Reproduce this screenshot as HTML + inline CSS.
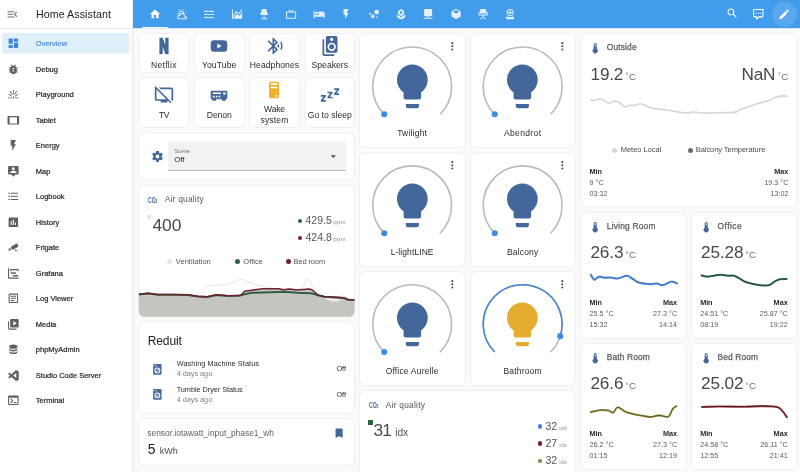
<!DOCTYPE html>
<html><head><meta charset="utf-8"><title>Home Assistant</title>
<style>
html,body{margin:0;padding:0}
body{width:800px;height:472px;overflow:hidden;position:relative;background:#fafafa;font-family:"Liberation Sans",sans-serif;}
.t{position:absolute;white-space:nowrap}
#L{position:absolute;left:0;top:0;width:800px;height:472px;will-change:transform}
#W{position:absolute;left:0;top:0;width:800px;height:472px;filter:blur(0.35px)}
.i{position:absolute;overflow:visible}
</style></head><body>
<div id="W">
<svg class="i" style="left:0;top:0;width:800px;height:472px" viewBox="0 0 800 472"><rect x="139.00" y="33.55" width="49.80" height="39.00" rx="5.8" fill="#fff" stroke="#efefef" stroke-width="1"/><rect x="194.30" y="33.55" width="49.80" height="39.00" rx="5.8" fill="#fff" stroke="#efefef" stroke-width="1"/><rect x="249.60" y="33.55" width="49.80" height="39.00" rx="5.8" fill="#fff" stroke="#efefef" stroke-width="1"/><rect x="304.90" y="33.55" width="49.80" height="39.00" rx="5.8" fill="#fff" stroke="#efefef" stroke-width="1"/><rect x="139.00" y="78.15" width="49.80" height="49.30" rx="5.8" fill="#fff" stroke="#efefef" stroke-width="1"/><rect x="194.30" y="78.15" width="49.80" height="49.30" rx="5.8" fill="#fff" stroke="#efefef" stroke-width="1"/><rect x="249.60" y="78.15" width="49.80" height="49.30" rx="5.8" fill="#fff" stroke="#efefef" stroke-width="1"/><rect x="304.90" y="78.15" width="49.80" height="49.30" rx="5.8" fill="#fff" stroke="#efefef" stroke-width="1"/><rect x="138.65" y="132.95" width="216.00" height="46.30" rx="5.8" fill="#fff" stroke="#efefef" stroke-width="1"/><rect x="138.65" y="185.15" width="216.00" height="131.90" rx="5.8" fill="#fff" stroke="#efefef" stroke-width="1"/><rect x="138.65" y="322.05" width="216.00" height="91.30" rx="5.8" fill="#fff" stroke="#efefef" stroke-width="1"/><rect x="138.65" y="418.45" width="216.00" height="47.40" rx="5.8" fill="#fff" stroke="#efefef" stroke-width="1"/><rect x="359.25" y="33.85" width="106.00" height="113.60" rx="5.8" fill="#fff" stroke="#efefef" stroke-width="1"/><rect x="470.25" y="33.85" width="105.00" height="113.60" rx="5.8" fill="#fff" stroke="#efefef" stroke-width="1"/><rect x="359.25" y="152.75" width="106.00" height="113.60" rx="5.8" fill="#fff" stroke="#efefef" stroke-width="1"/><rect x="470.25" y="152.75" width="105.00" height="113.60" rx="5.8" fill="#fff" stroke="#efefef" stroke-width="1"/><rect x="359.25" y="271.60" width="106.00" height="114.00" rx="5.8" fill="#fff" stroke="#efefef" stroke-width="1"/><rect x="470.25" y="271.60" width="105.00" height="114.00" rx="5.8" fill="#fff" stroke="#efefef" stroke-width="1"/><rect x="359.25" y="390.45" width="215.50" height="89.80" rx="5.8" fill="#fff" stroke="#efefef" stroke-width="1"/><rect x="580.75" y="33.85" width="216.10" height="173.10" rx="5.8" fill="#fff" stroke="#efefef" stroke-width="1"/><rect x="580.75" y="212.35" width="105.50" height="125.40" rx="5.8" fill="#fff" stroke="#efefef" stroke-width="1"/><rect x="691.45" y="212.35" width="105.50" height="125.40" rx="5.8" fill="#fff" stroke="#efefef" stroke-width="1"/><rect x="580.75" y="343.35" width="105.50" height="126.30" rx="5.8" fill="#fff" stroke="#efefef" stroke-width="1"/><rect x="691.45" y="343.35" width="105.50" height="126.30" rx="5.8" fill="#fff" stroke="#efefef" stroke-width="1"/><rect x="-6" y="-6" width="138.5" height="486" fill="#fff"/><rect x="132.3" y="-6" width="1" height="486" fill="#e4e4e4"/><rect x="0" y="28.1" width="132.5" height="0.9" fill="#e9e9e9"/><rect x="2" y="33" width="127.4" height="20.4" rx="2" fill="#e0f0fb"/><rect x="133" y="-6" width="675" height="34.2" fill="#419cec"/><rect x="142" y="27.0" width="26.2" height="1.2" fill="#fff"/><path d="M168,170.6V143.5a2,2 0 0 1 2,-2H343.6a2,2 0 0 1 2,2V170.6Z" fill="#f2f2f2"/><rect x="168" y="170" width="177.6" height="0.8" fill="#a6a6a6"/></svg>
<div id="L">
<svg class="i" style="left:6.35px;top:7.65px;width:12.7px;height:12.7px" viewBox="0 0 24 24"><path fill="#6e6e6e" d="M21,15.61L19.59,17L14.58,12L19.59,7L21,8.39L17.44,12L21,15.61M3,6H16V8H3V6M3,13V11H13V13H3M3,18V16H16V18H3Z"/></svg>
<div class="t" style="top:9.00px;font-size:10.6px;line-height:10.6px;color:#212121;letter-spacing:0.097px;left:36.00px;">Home Assistant</div>
<svg class="i" style="left:6.75px;top:37.15px;width:12.7px;height:12.7px" viewBox="0 0 24 24"><path fill="#3f87dc" d="M13,3V9H21V3M13,21H21V11H13M3,21H11V15H3M3,13H11V3H3V13Z"/></svg>
<div class="t" style="top:40.00px;font-size:7.5px;line-height:7.5px;color:#4f8fd8;left:35.80px;-webkit-text-stroke:0.22px #4f8fd8;">Overview</div>
<svg class="i" style="left:6.75px;top:62.65px;width:12.7px;height:12.7px" viewBox="0 0 24 24"><path fill="#606060" d="M14,12H10V10H14M14,16H10V14H14M20,8H17.19C16.74,7.22 16.12,6.55 15.37,6.04L17,4.41L15.59,3L13.42,5.17C12.96,5.06 12.5,5 12,5C11.5,5 11.04,5.06 10.59,5.17L8.41,3L7,4.41L8.62,6.04C7.88,6.55 7.26,7.22 6.81,8H4V10H6.09C6.04,10.33 6,10.66 6,11V12H4V14H6V15C6,15.34 6.04,15.67 6.09,16H4V18H6.81C7.85,19.79 9.78,21 12,21C14.22,21 16.15,19.79 17.19,18H20V16H17.91C17.96,15.67 18,15.34 18,15V14H20V12H18V11C18,10.66 17.96,10.33 17.91,10H20V8Z"/></svg>
<div class="t" style="top:66.00px;font-size:7.5px;line-height:7.5px;color:#2a2a2a;left:35.80px;-webkit-text-stroke:0.22px #2a2a2a;">Debug</div>
<svg class="i" style="left:6.75px;top:88.15px;width:12.7px;height:12.7px" viewBox="0 0 24 24"><path fill="#606060" d="M11.2,4H12.8V12H11.2ZM5,6.2L6.3,5.2L10.6,12.4L9.3,13.3ZM19,6.2L17.7,5.2L13.4,12.4L14.7,13.3ZM2.5,12.2L3.2,10.8L9,14.8L8.2,16.2ZM21.5,12.2L20.8,10.8L15,14.8L15.8,16.2ZM2,18H9.5V19.6H2ZM14.5,18H22V19.6H14.5ZM11.2,15H12.8V20H11.2Z"/></svg>
<div class="t" style="top:91.00px;font-size:7.5px;line-height:7.5px;color:#2a2a2a;left:35.80px;-webkit-text-stroke:0.22px #2a2a2a;">Playground</div>
<svg class="i" style="left:6.75px;top:113.65px;width:12.7px;height:12.7px" viewBox="0 0 24 24"><path fill="#606060" d="M19,18H5V6H19M21,4H3C1.89,4 1,4.89 1,6V18A2,2 0 0,0 3,20H21A2,2 0 0,0 23,18V6C23,4.89 22.1,4 21,4Z"/></svg>
<div class="t" style="top:117.00px;font-size:7.5px;line-height:7.5px;color:#2a2a2a;left:35.80px;-webkit-text-stroke:0.22px #2a2a2a;">Tablet</div>
<svg class="i" style="left:6.75px;top:139.15px;width:12.7px;height:12.7px" viewBox="0 0 24 24"><path fill="#606060" d="M7,2V13H10V22L17,10H13L17,2H7Z"/></svg>
<div class="t" style="top:142.00px;font-size:7.5px;line-height:7.5px;color:#2a2a2a;left:35.80px;-webkit-text-stroke:0.22px #2a2a2a;">Energy</div>
<svg class="i" style="left:6.75px;top:164.65px;width:12.7px;height:12.7px" viewBox="0 0 24 24"><path fill="#606060" d="M20,2H4A2,2 0 0,0 2,4V16A2,2 0 0,0 4,18H8L12,22L16,18H20A2,2 0 0,0 22,16V4A2,2 0 0,0 20,2M12,4.3C13.5,4.3 14.7,5.5 14.7,7C14.7,8.5 13.5,9.7 12,9.7C10.5,9.7 9.3,8.5 9.3,7C9.3,5.5 10.5,4.3 12,4.3M18,15H6V14.1C6,12.1 10,11 12,11C14,11 18,12.1 18,14.1V15Z"/></svg>
<div class="t" style="top:168.00px;font-size:7.5px;line-height:7.5px;color:#2a2a2a;left:35.80px;-webkit-text-stroke:0.22px #2a2a2a;">Map</div>
<svg class="i" style="left:6.75px;top:190.15px;width:12.7px;height:12.7px" viewBox="0 0 24 24"><path fill="#606060" d="M7,5H21V7H7V5M7,13V11H21V13H7M4,4.5A1.5,1.5 0 0,1 5.5,6A1.5,1.5 0 0,1 4,7.5A1.5,1.5 0 0,1 2.5,6A1.5,1.5 0 0,1 4,4.5M4,10.5A1.5,1.5 0 0,1 5.5,12A1.5,1.5 0 0,1 4,13.5A1.5,1.5 0 0,1 2.5,12A1.5,1.5 0 0,1 4,10.5M7,19V17H21V19H7M4,16.5A1.5,1.5 0 0,1 5.5,18A1.5,1.5 0 0,1 4,19.5A1.5,1.5 0 0,1 2.5,18A1.5,1.5 0 0,1 4,16.5Z"/></svg>
<div class="t" style="top:193.00px;font-size:7.5px;line-height:7.5px;color:#2a2a2a;left:35.80px;-webkit-text-stroke:0.22px #2a2a2a;">Logbook</div>
<svg class="i" style="left:6.75px;top:215.65px;width:12.7px;height:12.7px" viewBox="0 0 24 24"><path fill="#606060" d="M19,3H5C3.9,3 3,3.9 3,5V19C3,20.1 3.9,21 5,21H19C20.1,21 21,20.1 21,19V5C21,3.9 20.1,3 19,3M9,17H7V10H9V17M13,17H11V7H13V17M17,17H15V13H17V17Z"/></svg>
<div class="t" style="top:219.00px;font-size:7.5px;line-height:7.5px;color:#2a2a2a;left:35.80px;-webkit-text-stroke:0.22px #2a2a2a;">History</div>
<svg class="i" style="left:6.75px;top:241.15px;width:12.7px;height:12.7px" viewBox="0 0 24 24"><path fill="#606060" d="M18.2,4.9C17.8,4.9 17.4,5 17,5.2L8.3,10.2C7.4,10.8 7.1,12 7.6,12.9L9.1,15.5C9.7,16.5 10.9,16.8 11.8,16.3L20.5,11.3C21.5,10.7 21.8,9.5 21.2,8.5L19.7,5.9C19.4,5.3 18.8,5 18.2,4.9M6.2,13.2L4.5,14.2L6.5,17.6L8.2,16.6L6.2,13.2M3,14V19H5V14H3M16,15.5L14.3,16.5L15.5,18.6V19H19V17H17L16,15.5Z"/></svg>
<div class="t" style="top:244.00px;font-size:7.5px;line-height:7.5px;color:#2a2a2a;left:35.80px;-webkit-text-stroke:0.22px #2a2a2a;">Frigate</div>
<svg class="i" style="left:6.75px;top:266.65px;width:12.7px;height:12.7px" viewBox="0 0 24 24"><path fill="#606060" d="M2,2H4V20H22V22H2V2M7,10H17V13H7V10M11,15H21V18H11V15M6,4H22V8H20V6H8V8H6V4Z"/></svg>
<div class="t" style="top:270.00px;font-size:7.5px;line-height:7.5px;color:#2a2a2a;left:35.80px;-webkit-text-stroke:0.22px #2a2a2a;">Grafana</div>
<svg class="i" style="left:6.75px;top:292.15px;width:12.7px;height:12.7px" viewBox="0 0 24 24"><path fill="#606060" d="M5,3C3.89,3 3,3.89 3,5V19C3,20.11 3.89,21 5,21H19C20.11,21 21,20.11 21,19V5C21,3.89 20.11,3 19,3H5M5,5H19V19H5V5M7,7V9H17V7H7M7,11V13H17V11H7M7,15V17H14V15H7Z"/></svg>
<div class="t" style="top:295.00px;font-size:7.5px;line-height:7.5px;color:#2a2a2a;left:35.80px;-webkit-text-stroke:0.22px #2a2a2a;">Log Viewer</div>
<svg class="i" style="left:6.75px;top:317.65px;width:12.7px;height:12.7px" viewBox="0 0 24 24"><path fill="#606060" d="M4,6H2V20A2,2 0 0,0 4,22H18V20H4V6M20,2H8A2,2 0 0,0 6,4V16A2,2 0 0,0 8,18H20A2,2 0 0,0 22,16V4A2,2 0 0,0 20,2M12,14.5V5.5L18,10L12,14.5Z"/></svg>
<div class="t" style="top:321.00px;font-size:7.5px;line-height:7.5px;color:#2a2a2a;left:35.80px;-webkit-text-stroke:0.22px #2a2a2a;">Media</div>
<svg class="i" style="left:6.75px;top:343.15px;width:12.7px;height:12.7px" viewBox="0 0 24 24"><path fill="#606060" d="M12,3C7.58,3 4,4.79 4,7C4,9.21 7.58,11 12,11C16.42,11 20,9.21 20,7C20,4.79 16.42,3 12,3M4,9V12C4,14.21 7.58,16 12,16C16.42,16 20,14.21 20,12V9C20,11.21 16.42,13 12,13C7.58,13 4,11.21 4,9M4,14V17C4,19.21 7.58,21 12,21C16.42,21 20,19.21 20,17V14C20,16.21 16.42,18 12,18C7.58,18 4,16.21 4,14Z"/></svg>
<div class="t" style="top:346.00px;font-size:7.5px;line-height:7.5px;color:#2a2a2a;left:35.80px;-webkit-text-stroke:0.22px #2a2a2a;">phpMyAdmin</div>
<svg class="i" style="left:6.75px;top:368.65px;width:12.7px;height:12.7px" viewBox="0 0 24 24"><path fill="#606060" d="M21.6,4.2L17.9,2.4C17.4,2.2 16.9,2.3 16.5,2.6L8.5,10L4.9,7.3C4.6,7 4.1,7.1 3.8,7.3L2.7,8.4C2.3,8.7 2.3,9.3 2.7,9.6L5.8,12.5L2.7,15.3C2.3,15.7 2.3,16.3 2.7,16.6L3.8,17.7C4.1,18 4.6,18 4.9,17.7L8.5,15L16.5,22.3C16.9,22.7 17.4,22.8 17.9,22.5L21.6,20.7C22.1,20.5 22.3,20.1 22.3,19.6V5.4C22.3,4.9 22.1,4.4 21.6,4.2M17.5,17.2L11.7,12.5L17.5,7.8V17.2Z"/></svg>
<div class="t" style="top:372.00px;font-size:7.5px;line-height:7.5px;color:#2a2a2a;left:35.80px;-webkit-text-stroke:0.22px #2a2a2a;">Studio Code Server</div>
<svg class="i" style="left:6.75px;top:394.15px;width:12.7px;height:12.7px" viewBox="0 0 24 24"><path fill="#606060" d="M20,19V7H4V19H20M20,3A2,2 0 0,1 22,5V19A2,2 0 0,1 20,21H4A2,2 0 0,1 2,19V5C2,3.89 2.9,3 4,3H20M13,17V15H18V17H13M9.58,13L5.57,9H8.4L11.7,12.3C12.09,12.69 12.09,13.33 11.7,13.72L8.42,17H5.59L9.58,13Z"/></svg>
<div class="t" style="top:397.00px;font-size:7.5px;line-height:7.5px;color:#2a2a2a;left:35.80px;-webkit-text-stroke:0.22px #2a2a2a;">Terminal</div>
<svg class="i" style="left:148.50px;top:7.70px;width:12.2px;height:12.2px" viewBox="0 0 24 24"><path fill="#ffffff" d="M10,20V14H14V20H19V12H22L12,3L2,12H5V20H10Z"/></svg>
<svg class="i" style="left:175.88px;top:7.70px;width:12.2px;height:12.2px" viewBox="0 0 24 24"><path fill="#e4f0fc" d="M12.74,5.47C15.1,6.5 16.35,9.03 15.92,11.46C17.19,12.56 18,14.19 18,16V16.17C18.31,16.06 18.65,16 19,16A3,3 0 0,1 22,19A3,3 0 0,1 19,22H6A4,4 0 0,1 2,18A4,4 0 0,1 6,14H6.27C5,12.45 4.6,10.24 5.5,8.26C6.72,5.5 9.97,4.24 12.74,5.47M11.93,7.3C10.16,6.5 8.09,7.31 7.31,9.07C6.85,10.09 6.93,11.22 7.41,12.13C8.5,10.83 10.16,10 12,10C12.7,10 13.38,10.12 14,10.34C13.94,9.06 13.18,7.86 11.93,7.3M13.55,3.64C13,3.4 12.45,3.23 11.88,3.12L14.37,1.82L15.27,4.71C14.76,4.29 14.19,3.93 13.55,3.64M6.09,4.44C5.6,4.79 5.17,5.19 4.8,5.63L4.91,2.82L7.87,3.5C7.25,3.71 6.65,4.03 6.09,4.44M18,9.71C17.91,9.12 17.78,8.55 17.59,8L19.97,9.5L17.92,11.73C18.03,11.08 18.05,10.4 18,9.71M3.04,11.3C3.11,11.9 3.24,12.47 3.43,13L1.06,11.5L3.1,9.28C3,9.93 2.97,10.61 3.04,11.3M19,18H16V16A4,4 0 0,0 12,12A4,4 0 0,0 8,16H6A2,2 0 0,0 4,18A2,2 0 0,0 6,20H19A1,1 0 0,0 20,19A1,1 0 0,0 19,18Z"/></svg>
<svg class="i" style="left:203.26px;top:7.70px;width:12.2px;height:12.2px" viewBox="0 0 24 24"><path fill="#e4f0fc" d="M20,12H22V14H20C18.62,14 17.26,13.65 16,13C13.5,14.3 10.5,14.3 8,13C6.74,13.65 5.37,14 4,14H2V12H4C5.39,12 6.78,11.53 8,10.67C10.44,12.38 13.56,12.38 16,10.67C17.22,11.53 18.61,12 20,12M20,6H22V8H20C18.62,8 17.26,7.65 16,7C13.5,8.3 10.5,8.3 8,7C6.74,7.65 5.37,8 4,8H2V6H4C5.39,6 6.78,5.53 8,4.67C10.44,6.38 13.56,6.38 16,4.67C17.22,5.53 18.61,6 20,6M20,18H22V20H20C18.62,20 17.26,19.65 16,19C13.5,20.3 10.5,20.3 8,19C6.74,19.65 5.37,20 4,20H2V18H4C5.39,18 6.78,17.53 8,16.67C10.44,18.38 13.56,18.38 16,16.67C17.22,17.53 18.61,18 20,18Z"/></svg>
<svg class="i" style="left:230.64px;top:7.70px;width:12.2px;height:12.2px" viewBox="0 0 24 24"><path fill="#e4f0fc" d="M17.45,15.18L22,7.31V19L22,21H2V3H4V15.54L9.5,6L16,9.78L20.24,2.45L21.97,3.45L16.74,12.5L10.23,8.75L4.31,19H6.57L10.96,11.44L17.45,15.18Z"/></svg>
<svg class="i" style="left:258.02px;top:7.70px;width:12.2px;height:12.2px" viewBox="0 0 24 24"><path fill="#e4f0fc" d="M8,2H16L20,14H4L8,2M11,15H13V20H18V22H6V20H11V15Z"/></svg>
<svg class="i" style="left:285.40px;top:7.70px;width:12.2px;height:12.2px" viewBox="0 0 24 24"><path fill="#e4f0fc" d="M8.16,3L6.75,4.41L9.34,7H4C2.89,7 2,7.89 2,9V19C2,20.11 2.89,21 4,21H20C21.11,21 22,20.11 22,19V9C22,7.89 21.11,7 20,7H14.66L17.25,4.41L15.84,3L12,6.84L8.16,3M4,9H20V19H4V9Z"/></svg>
<svg class="i" style="left:312.78px;top:7.70px;width:12.2px;height:12.2px" viewBox="0 0 24 24"><path fill="#e4f0fc" d="M19,7H11V14H3V5H1V20H3V17H21V20H23V11A4,4 0 0,0 19,7M7,13A3,3 0 0,0 10,10A3,3 0 0,0 7,7A3,3 0 0,0 4,10A3,3 0 0,0 7,13Z"/></svg>
<svg class="i" style="left:340.16px;top:7.70px;width:12.2px;height:12.2px" viewBox="0 0 24 24"><path fill="#e4f0fc" d="M7,2V13H10V22L17,10H13L17,2H7Z"/></svg>
<svg class="i" style="left:367.54px;top:7.70px;width:12.2px;height:12.2px" viewBox="0 0 24 24"><path fill="#e4f0fc" d="M9.5,13A3.6,3.6 0 1,1 9.5,20.2A3.6,3.6 0 1,1 9.5,13M17,3.5A4.6,4.6 0 1,1 17,12.7A4.6,4.6 0 1,1 17,3.5M4,9.4A2,2 0 1,1 4,13.4A2,2 0 1,1 4,9.4M17.5,16A1.6,1.6 0 1,1 17.5,19.2A1.6,1.6 0 1,1 17.5,16Z"/></svg>
<svg class="i" style="left:394.92px;top:7.70px;width:12.2px;height:12.2px" viewBox="0 0 24 24"><path fill="#e4f0fc" d="M12,2L18,6V12L12,16L6,12V6L12,2M12,6.5A2.5,2.5 0 1,0 12,11.5A2.5,2.5 0 1,0 12,6.5M3,14C3,19 7,22 12,22C17,22 21,19 21,14C17,14 14,16 12,19C10,16 7,14 3,14Z"/></svg>
<svg class="i" style="left:422.30px;top:7.70px;width:12.2px;height:12.2px" viewBox="0 0 24 24"><path fill="#e4f0fc" d="M6,2H18A2,2 0 0,1 20,4V14A2,2 0 0,1 18,16H13V19H21V21H3V19H11V16H6A2,2 0 0,1 4,14V4A2,2 0 0,1 6,2Z"/></svg>
<svg class="i" style="left:449.68px;top:7.70px;width:12.2px;height:12.2px" viewBox="0 0 24 24"><path fill="#e4f0fc" d="M21,16.5C21,16.88 20.79,17.21 20.47,17.38L12.57,21.82C12.41,21.94 12.21,22 12,22C11.79,22 11.59,21.94 11.43,21.82L3.53,17.38C3.21,17.21 3,16.88 3,16.5V7.5C3,7.12 3.21,6.79 3.53,6.62L11.43,2.18C11.59,2.06 11.79,2 12,2C12.21,2 12.41,2.06 12.57,2.18L20.47,6.62C20.79,6.79 21,7.12 21,7.5V16.5M12,4.15L6.04,7.5L12,10.85L17.96,7.5L12,4.15Z"/></svg>
<svg class="i" style="left:477.06px;top:7.70px;width:12.2px;height:12.2px" viewBox="0 0 24 24"><path fill="#e4f0fc" d="M8,2H16A2,2 0 0,1 18,4V11H6V4A2,2 0 0,1 8,2M3,7H5V13H19V7H21V15H13V18L18,20.5V22L12,19.5L6,22V20.5L11,18V15H3V7Z"/></svg>
<svg class="i" style="left:504.44px;top:7.70px;width:12.2px;height:12.2px" viewBox="0 0 24 24"><path fill="#e4f0fc" d="M12,2A7,7 0 0,1 19,9A7,7 0 0,1 12,16A7,7 0 0,1 5,9A7,7 0 0,1 12,2M12,4A5,5 0 0,0 7,9A5,5 0 0,0 12,14A5,5 0 0,0 17,9A5,5 0 0,0 12,4M12,6A3,3 0 0,1 15,9A3,3 0 0,1 12,12A3,3 0 0,1 9,9A3,3 0 0,1 12,6M6,22A2,2 0 0,1 4,20C4,19.38 4.28,18.82 4.73,18.46L6.66,16.14C8.16,17.3 10,18 12,18C14,18 15.84,17.3 17.34,16.14L19.27,18.46C19.72,18.82 20,19.38 20,20A2,2 0 0,1 18,22H6Z"/></svg>
<div style="position:absolute;left:771.5px;top:1.5px;width:25px;height:25px;border-radius:50%;background:rgba(255,255,255,0.13)"></div>
<svg class="i" style="left:726.35px;top:7.45px;width:12.5px;height:12.5px" viewBox="0 0 24 24"><path fill="#fff" d="M9.5,3A6.5,6.5 0 0,1 16,9.5C16,11.11 15.41,12.59 14.44,13.73L14.71,14H15.5L20.5,19L19,20.5L14,15.5V14.71L13.73,14.44C12.59,15.41 11.11,16 9.5,16A6.5,6.5 0 0,1 3,9.5A6.5,6.5 0 0,1 9.5,3M9.5,5C7,5 5,7 5,9.5C5,12 7,14 9.5,14C12,14 14,12 14,9.5C14,7 12,5 9.5,5Z"/></svg>
<svg class="i" style="left:751.75px;top:7.95px;width:12.5px;height:12.5px" viewBox="0 0 24 24"><path fill="#fff" d="M9,22A1,1 0 0,1 8,21V18H4A2,2 0 0,1 2,16V4C2,2.89 2.9,2 4,2H20A2,2 0 0,1 22,4V16A2,2 0 0,1 20,18H13.9L10.2,21.71C10,21.9 9.75,22 9.5,22V22H9M10,16V19.08L13.08,16H20V4H4V16H10M17,11H15V9H17V11M13,11H11V9H13V11M9,11H7V9H9V11Z"/></svg>
<svg class="i" style="left:777.55px;top:7.55px;width:12.5px;height:12.5px" viewBox="0 0 24 24"><path fill="#fff" d="M20.71,7.04C21.1,6.65 21.1,6 20.71,5.63L18.37,3.29C18,2.9 17.35,2.9 16.96,3.29L15.12,5.12L18.87,8.87M3,17.25V21H6.75L17.81,9.93L14.06,6.18L3,17.25Z"/></svg>
<svg class="i" style="left:153.90px;top:35.70px;width:20px;height:20px" viewBox="0 0 24 24"><path fill="#44679b" d="M6.5,2H10.5L13.44,10.83L13.5,2H17.5V22C16.25,21.78 14.87,21.64 13.41,21.58L10.5,13L10.43,21.59C9.03,21.65 7.7,21.79 6.5,22V2Z"/></svg>
<div class="t" style="top:61.00px;font-size:8.6px;line-height:8.6px;color:#2b2b2b;letter-spacing:0.244px;left:128.90px;width:70px;text-align:center;">Netflix</div>
<svg class="i" style="left:209.20px;top:35.70px;width:20px;height:20px" viewBox="0 0 24 24"><path fill="#44679b" d="M10,15L15.19,12L10,9V15M21.56,7.17C21.69,7.64 21.78,8.27 21.84,9.07C21.91,9.87 21.94,10.56 21.94,11.16L22,12C22,14.19 21.84,15.8 21.56,16.83C21.31,17.73 20.73,18.31 19.83,18.56C19.36,18.69 18.5,18.78 17.18,18.84C15.88,18.91 14.69,18.94 13.59,18.94L12,19C7.81,19 5.2,18.84 4.17,18.56C3.27,18.31 2.69,17.73 2.44,16.83C2.31,16.36 2.22,15.73 2.16,14.93C2.09,14.13 2.06,13.44 2.06,12.84L2,12C2,9.81 2.16,8.2 2.44,7.17C2.69,6.27 3.27,5.69 4.17,5.44C4.64,5.31 5.5,5.22 6.82,5.16C8.12,5.09 9.31,5.06 10.41,5.06L12,5C16.19,5 18.8,5.16 19.83,5.44C20.73,5.69 21.31,6.27 21.56,7.17Z"/></svg>
<div class="t" style="top:61.00px;font-size:8.6px;line-height:8.6px;color:#2b2b2b;letter-spacing:0.101px;left:184.20px;width:70px;text-align:center;">YouTube</div>
<svg class="i" style="left:264.50px;top:35.70px;width:20px;height:20px" viewBox="0 0 24 24"><path fill="#44679b" d="M12.88,16.29L11,18.17V14.41M11,5.83L12.88,7.71L11,9.58M15.71,7.71L10,2H9V9.58L4.41,5L3,6.41L8.59,12L3,17.58L4.41,19L9,14.41V22H10L15.71,16.29L11.41,12M19.53,6.71L18.26,8C18.89,9.18 19.25,10.55 19.25,12C19.25,13.45 18.89,14.82 18.26,16L19.46,17.22C20.43,15.68 21,13.87 21,11.91C21,10 20.46,8.23 19.53,6.71M14.24,12L16.56,14.33C16.84,13.6 17,12.82 17,12C17,11.18 16.84,10.4 16.57,9.68L14.24,12Z"/></svg>
<div class="t" style="top:61.00px;font-size:8.6px;line-height:8.6px;color:#2b2b2b;letter-spacing:0.053px;left:239.50px;width:70px;text-align:center;">Headphones</div>
<svg class="i" style="left:319.80px;top:35.70px;width:20px;height:20px" viewBox="0 0 24 24"><path fill="#44679b" d="M14,10A3,3 0 0,0 11,13A3,3 0 0,0 14,16A3,3 0 0,0 17,13A3,3 0 0,0 14,10M14,18A5,5 0 0,1 9,13A5,5 0 0,1 14,8A5,5 0 0,1 19,13A5,5 0 0,1 14,18M14,2A2,2 0 0,1 16,4A2,2 0 0,1 14,6A2,2 0 0,1 12,4A2,2 0 0,1 14,2M19,0H9A2,2 0 0,0 7,2V18A2,2 0 0,0 9,20H19A2,2 0 0,0 21,18V2A2,2 0 0,0 19,0M5,22H17V24H5A2,2 0 0,1 3,22V4H5"/></svg>
<div class="t" style="top:61.00px;font-size:8.6px;line-height:8.6px;color:#2b2b2b;letter-spacing:0.021px;left:294.80px;width:70px;text-align:center;">Speakers</div>
<svg class="i" style="left:153.90px;top:84.70px;width:20px;height:20px" viewBox="0 0 24 24"><path fill="#44679b" d="M0.5,2.77L1.78,1.5L21,20.72L19.73,22L16.73,19H16V21H8V19H3A2,2 0 0,1 1,17V5C1,4.5 1.17,4.07 1.46,3.73L0.5,2.77M21,17V5H7.82L5.82,3H21A2,2 0 0,1 23,5V17C23,17.85 22.45,18.59 21.7,18.87L19.82,17H21M3,17H14.73L3,5.27V17Z"/></svg>
<div class="t" style="top:111.00px;font-size:8.6px;line-height:8.6px;color:#2b2b2b;letter-spacing:-0.545px;left:128.90px;width:70px;text-align:center;">TV</div>
<svg class="i" style="left:209.20px;top:84.70px;width:20px;height:20px" viewBox="0 0 24 24"><path fill="#44679b" fill-rule="evenodd" d="M3.5,7H20.5A1.5,1.5 0 0,1 22,8.5V15.5A1.5,1.5 0 0,1 20.5,17H3.5A1.5,1.5 0 0,1 2,15.5V8.5A1.5,1.5 0 0,1 3.5,7Z M4,17H8.5V19H4Z M15.5,17H20V19H15.5Z M4.5,9H14.5V10.8H4.5Z M17,9H20V11.5H17Z M4.5,13H6.5V15H4.5Z M8,13H10V15H8Z M11.5,13H13.5V15H11.5Z"/></svg>
<div class="t" style="top:111.00px;font-size:8.6px;line-height:8.6px;color:#2b2b2b;letter-spacing:-0.108px;left:184.20px;width:70px;text-align:center;">Denon</div>
<svg class="i" style="left:264.20px;top:79.50px;width:20px;height:20px" viewBox="0 0 24 24"><path fill="#efb22c" d="M8,2H16A2,2 0 0,1 18,4V20A2,2 0 0,1 16,22H8A2,2 0 0,1 6,20V4A2,2 0 0,1 8,2M8,4V6H16V4H8M16,8H8V10H16V8M16,18H14V20H16V18Z"/></svg>
<div class="t" style="top:105.00px;font-size:8.6px;line-height:8.6px;color:#2b2b2b;letter-spacing:-0.166px;left:239.50px;width:70px;text-align:center;">Wake</div>
<div class="t" style="top:116.00px;font-size:8.6px;line-height:8.6px;color:#2b2b2b;letter-spacing:0.127px;left:239.50px;width:70px;text-align:center;">system</div>
<svg class="i" style="left:319.80px;top:84.70px;width:20px;height:20px" viewBox="0 0 24 24"><path fill="#44679b" d="M23,12H17V10L20.39,6H17V4H23V6L19.62,10H23V12M15,16H9V14L12.39,10H9V8H15V10L11.62,14H15V16M7,20H1V18L4.39,14H1V12H7V14L3.62,18H7V20Z"/></svg>
<div class="t" style="top:111.00px;font-size:8.6px;line-height:8.6px;color:#2b2b2b;letter-spacing:0.020px;left:294.80px;width:70px;text-align:center;">Go to sleep</div>
<svg class="i" style="left:151.00px;top:150.00px;width:13px;height:13px" viewBox="0 0 24 24"><path fill="#44679b" d="M12,15.5A3.5,3.5 0 0,1 8.5,12A3.5,3.5 0 0,1 12,8.5A3.5,3.5 0 0,1 15.5,12A3.5,3.5 0 0,1 12,15.5M19.43,12.97C19.47,12.65 19.5,12.33 19.5,12C19.5,11.67 19.47,11.34 19.43,11L21.54,9.37C21.73,9.22 21.78,8.95 21.66,8.73L19.66,5.27C19.54,5.05 19.27,4.96 19.05,5.05L16.56,6.05C16.04,5.66 15.5,5.32 14.87,5.07L14.5,2.42C14.46,2.18 14.25,2 14,2H10C9.75,2 9.54,2.18 9.5,2.42L9.13,5.07C8.5,5.32 7.96,5.66 7.44,6.05L4.95,5.05C4.73,4.96 4.46,5.05 4.34,5.27L2.34,8.73C2.21,8.95 2.27,9.22 2.46,9.37L4.57,11C4.53,11.34 4.5,11.67 4.5,12C4.5,12.33 4.53,12.65 4.57,12.97L2.46,14.63C2.27,14.78 2.21,15.05 2.34,15.27L4.34,18.73C4.46,18.95 4.73,19.03 4.95,18.95L7.44,17.94C7.96,18.34 8.5,18.68 9.13,18.93L9.5,21.58C9.54,21.82 9.75,22 10,22H14C14.25,22 14.46,21.82 14.5,21.58L14.87,18.93C15.5,18.67 16.04,18.34 16.56,17.94L19.05,18.95C19.27,19.03 19.54,18.95 19.66,18.73L21.66,15.27C21.78,15.05 21.73,14.78 21.54,14.63L19.43,12.97Z"/></svg>
<div class="t" style="top:149.00px;font-size:5.9px;line-height:5.9px;color:#7a7a7a;letter-spacing:-0.246px;left:174.30px;">Scene</div>
<div class="t" style="top:156.00px;font-size:7.6px;line-height:7.6px;color:#212121;letter-spacing:0.068px;left:174.30px;">Off</div>
<svg class="i" style="left:326.85px;top:149.95px;width:12.7px;height:12.7px" viewBox="0 0 24 24"><path fill="#555" d="M7,10L12,15L17,10H7Z"/></svg>
<div class="t" style="top:197.00px;font-size:8.2px;line-height:8.2px;color:#44679b;font-weight:bold;left:148.20px;transform:scaleX(0.62);transform-origin:0 0;">CO<span style="font-size:5.5px">2</span></div>
<div class="t" style="top:195.00px;font-size:8.4px;line-height:8.4px;color:#555;letter-spacing:0.220px;left:164.70px;">Air quality</div>
<div style="position:absolute;left:147.3px;top:214.8px;width:4.2px;height:4.4px;background:#e6e6e6"></div>
<div class="t" style="top:217.00px;font-size:17.4px;line-height:17.4px;color:#4a4a4a;letter-spacing:-0.077px;left:152.50px;">400</div>
<div style="position:absolute;left:298.25px;top:218.80px;width:4.0px;height:4.0px;border-radius:50%;background:#2f5f49"></div>
<div class="t" style="top:215.00px;font-size:10.5px;line-height:10.5px;color:#555;letter-spacing:-0.015px;left:305.50px;">429.5</div>
<div class="t" style="top:219.00px;font-size:6.2px;line-height:6.2px;color:#8e8e8e;letter-spacing:0.113px;left:333.30px;">ppm</div>
<div style="position:absolute;left:298.25px;top:236.00px;width:4.0px;height:4.0px;border-radius:50%;background:#6f2229"></div>
<div class="t" style="top:232.00px;font-size:10.5px;line-height:10.5px;color:#555;letter-spacing:-0.015px;left:305.50px;">424.8</div>
<div class="t" style="top:236.00px;font-size:6.2px;line-height:6.2px;color:#8e8e8e;letter-spacing:0.113px;left:333.30px;">ppm</div>
<div style="position:absolute;left:167.30px;top:258.80px;width:5.0px;height:5.0px;border-radius:50%;background:#e6e6e6"></div>
<div class="t" style="top:258.00px;font-size:7.5px;line-height:7.5px;color:#555;letter-spacing:0.035px;left:175.80px;">Ventilation</div>
<div style="position:absolute;left:234.50px;top:258.80px;width:5.0px;height:5.0px;border-radius:50%;background:#2f5f49"></div>
<div class="t" style="top:258.00px;font-size:7.5px;line-height:7.5px;color:#555;letter-spacing:0.024px;left:243.30px;">Office</div>
<div style="position:absolute;left:285.75px;top:258.80px;width:5.0px;height:5.0px;border-radius:50%;background:#6f2229"></div>
<div class="t" style="top:258.00px;font-size:7.5px;line-height:7.5px;color:#555;letter-spacing:-0.127px;left:293.50px;">Bed room</div>
<svg class="i" style="left:0;top:0;width:800px;height:472px" viewBox="0 0 800 472"><defs><clipPath id="cp1"><rect x="138.9" y="185.4" width="215.5" height="131.2" rx="5.5" ry="5.5"/></clipPath></defs><g clip-path="url(#cp1)"><path d="M138.00,294.20 L148.50,293.30 L157.50,294.50 L172.50,294.50 L187.50,294.80 L198.00,296.30 L207.00,296.75 L216.75,294.80 L228.00,295.70 L240.00,295.40 L242.00,294.20 L244.50,291.25 L255.00,289.75 L262.50,288.70 L279.00,288.70 L283.50,289.75 L289.50,289.00 L297.00,290.00 L309.00,289.00 L312.00,289.75 L318.00,295.00 L324.00,296.50 L336.00,297.25 L343.50,297.70 L348.00,299.50 L355.40,299.80 L356,318 L138,318Z" fill="#c8c5c0"/><path d="M138.00,294.40 L148.50,293.50 L157.50,294.70 L172.50,294.70 L187.50,295.00 L198.00,296.50 L207.00,296.95 L216.75,295.00 L228.00,295.90 L240.00,295.60 L244.50,294.25 L252.00,292.75 L270.00,292.30 L285.00,291.70 L297.00,292.75 L310.50,293.20 L315.00,294.25 L318.00,295.20 L324.00,296.70 L336.00,297.45 L343.50,297.90 L348.00,299.70 L355.40,300.00 L356,318 L138,318Z" fill="#c6c4bf"/><path d="M324,297.4 L327,299.2 L330,301 L339,301 L341,298.4 Z" fill="#ecebe9"/><path d="M138.00,294.60 L160.00,295.40 L187.50,295.00 L196.00,294.60 L198.00,293.75 L208.50,285.50 L218.00,285.20 L228.00,284.75 L238.50,279.80 L242.00,279.20 L246.00,281.20 L255.00,284.50 L267.00,287.50 L280.00,289.40 L300.00,289.20 L303.00,288.25 L306.00,279.25 L309.00,280.00 L313.50,289.00 L318.00,295.20 L327.00,299.20 L330.00,301.00 L339.00,301.00 L342.00,295.00 L345.00,297.25 L355.40,300.00" fill="none" stroke="#e4e4e4" stroke-width="0.9" stroke-linejoin="round"/><path d="M138.00,294.40 L148.50,293.50 L157.50,294.70 L172.50,294.70 L187.50,295.00 L198.00,296.50 L207.00,296.95 L216.75,295.00 L228.00,295.90 L240.00,295.60 L244.50,294.25 L252.00,292.75 L270.00,292.30 L285.00,291.70 L297.00,292.75 L310.50,293.20 L315.00,294.25 L318.00,295.20 L324.00,296.70 L336.00,297.45 L343.50,297.90 L348.00,299.70 L355.40,300.00" fill="none" stroke="#2f5f49" stroke-width="2.0" stroke-linejoin="round"/><path d="M138.00,294.20 L148.50,293.30 L157.50,294.50 L172.50,294.50 L187.50,294.80 L198.00,296.30 L207.00,296.75 L216.75,294.80 L228.00,295.70 L240.00,295.40 L242.00,294.20 L244.50,291.25 L255.00,289.75 L262.50,288.70 L279.00,288.70 L283.50,289.75 L289.50,289.00 L297.00,290.00 L309.00,289.00 L312.00,289.75 L318.00,295.00 L324.00,296.50 L336.00,297.25 L343.50,297.70 L348.00,299.50 L355.40,299.80" fill="none" stroke="#6f2229" stroke-width="1.5" stroke-linejoin="round"/></g></svg>
<div class="t" style="top:335.00px;font-size:12.0px;line-height:12.0px;color:#212121;letter-spacing:-0.115px;left:147.75px;">Reduit</div>
<svg class="i" style="left:151.15px;top:363.15px;width:12.7px;height:12.7px" viewBox="0 0 24 24"><path fill="#44679b" fill-rule="evenodd" d="M6,2H18A2,2 0 0,1 20,4V20A2,2 0 0,1 18,22H6A2,2 0 0,1 4,20V4A2,2 0 0,1 6,2Z M12,8.4A5.6,5.6 0 1,0 12,19.6A5.6,5.6 0 1,0 12,8.4Z M12,10.2A3.8,3.8 0 1,1 12,17.8A3.8,3.8 0 1,1 12,10.2Z M14.6,11.2L15.6,12.2L10,17.6L9,16.6Z M6.2,4.2H8V6H6.2Z M9.2,4.2H11V6H9.2Z"/></svg>
<div class="t" style="top:360.00px;font-size:7.3px;line-height:7.3px;color:#2b2b2b;letter-spacing:0.088px;left:176.70px;">Washing Machine Status</div>
<div class="t" style="top:370.00px;font-size:7.3px;line-height:7.3px;color:#808080;letter-spacing:-0.022px;left:176.70px;">4 days ago</div>
<div class="t" style="top:365.00px;font-size:7.3px;line-height:7.3px;color:#2b2b2b;right:454.00px;">Off</div>
<svg class="i" style="left:151.15px;top:388.15px;width:12.7px;height:12.7px" viewBox="0 0 24 24"><path fill="#44679b" fill-rule="evenodd" d="M6,2H18A2,2 0 0,1 20,4V20A2,2 0 0,1 18,22H6A2,2 0 0,1 4,20V4A2,2 0 0,1 6,2Z M12,8.4A5.6,5.6 0 1,0 12,19.6A5.6,5.6 0 1,0 12,8.4Z M12,10.2A3.8,3.8 0 1,1 12,17.8A3.8,3.8 0 1,1 12,10.2Z M9.6,12.6H14.4V13.8H9.6Z M9.6,14.8H14.4V16H9.6Z M6.2,4.2H8V6H6.2Z M9.2,4.2H11V6H9.2Z"/></svg>
<div class="t" style="top:386.00px;font-size:7.3px;line-height:7.3px;color:#2b2b2b;letter-spacing:-0.035px;left:176.70px;">Tumble Dryer Status</div>
<div class="t" style="top:396.00px;font-size:7.3px;line-height:7.3px;color:#808080;letter-spacing:-0.022px;left:176.70px;">4 days ago</div>
<div class="t" style="top:391.00px;font-size:7.3px;line-height:7.3px;color:#2b2b2b;right:454.00px;">Off</div>
<div class="t" style="top:429.00px;font-size:8.4px;line-height:8.4px;color:#606060;letter-spacing:0.014px;left:147.30px;">sensor.iotawatt_input_phase1_wh</div>
<svg class="i" style="left:333.40px;top:427.30px;width:12.2px;height:12.2px" viewBox="0 0 24 24"><path fill="#44679b" d="M17,3H7A2,2 0 0,0 5,5V21L12,18L19,21V5C19,3.89 18.1,3 17,3Z"/></svg>
<div class="t" style="top:442.00px;font-size:14.0px;line-height:14.0px;color:#212121;left:147.75px;">5</div>
<div class="t" style="top:447.00px;font-size:9.0px;line-height:9.0px;color:#4a4a4a;letter-spacing:0.000px;left:159.75px;">kWh</div>
<svg class="i" style="left:0;top:0;width:800px;height:472px" viewBox="0 0 800 472"><path d="M384.25,114.30 A39.45,39.45 0 1 1 440.05,114.30" fill="none" stroke="#bababa" stroke-width="1.6"/><circle cx="384.25" cy="114.30" r="3.05" fill="#3f8be2"/></svg>
<svg class="i" style="left:385.80px;top:59.65px;width:52.7px;height:52.7px" viewBox="0 0 24 24"><path fill="#44679b" d="M12,2A7,7 0 0,0 5,9C5,11.38 6.19,13.47 8,14.74V17A1,1 0 0,0 9,18H15A1,1 0 0,0 16,17V14.74C17.81,13.47 19,11.38 19,9A7,7 0 0,0 12,2M9,21A1,1 0 0,0 10,22H14A1,1 0 0,0 15,21V20H9V21Z"/></svg>
<svg class="i" style="left:445.75px;top:40.00px;width:12.6px;height:12.6px" viewBox="0 0 24 24"><path fill="#4f4f4f" d="M12,16A2,2 0 0,1 14,18A2,2 0 0,1 12,20A2,2 0 0,1 10,18A2,2 0 0,1 12,16M12,10A2,2 0 0,1 14,12A2,2 0 0,1 12,14A2,2 0 0,1 10,12A2,2 0 0,1 12,10M12,4A2,2 0 0,1 14,6A2,2 0 0,1 12,8A2,2 0 0,1 10,6A2,2 0 0,1 12,4Z"/></svg>
<div class="t" style="top:129.00px;font-size:8.5px;line-height:8.5px;color:#2b2b2b;letter-spacing:0.207px;left:360.15px;width:104px;text-align:center;">Twilight</div>
<svg class="i" style="left:0;top:0;width:800px;height:472px" viewBox="0 0 800 472"><path d="M494.75,114.30 A39.45,39.45 0 1 1 550.55,114.30" fill="none" stroke="#bababa" stroke-width="1.6"/><circle cx="494.75" cy="114.30" r="3.05" fill="#3f8be2"/></svg>
<svg class="i" style="left:496.30px;top:59.65px;width:52.7px;height:52.7px" viewBox="0 0 24 24"><path fill="#44679b" d="M12,2A7,7 0 0,0 5,9C5,11.38 6.19,13.47 8,14.74V17A1,1 0 0,0 9,18H15A1,1 0 0,0 16,17V14.74C17.81,13.47 19,11.38 19,9A7,7 0 0,0 12,2M9,21A1,1 0 0,0 10,22H14A1,1 0 0,0 15,21V20H9V21Z"/></svg>
<svg class="i" style="left:555.75px;top:40.00px;width:12.6px;height:12.6px" viewBox="0 0 24 24"><path fill="#4f4f4f" d="M12,16A2,2 0 0,1 14,18A2,2 0 0,1 12,20A2,2 0 0,1 10,18A2,2 0 0,1 12,16M12,10A2,2 0 0,1 14,12A2,2 0 0,1 12,14A2,2 0 0,1 10,12A2,2 0 0,1 12,10M12,4A2,2 0 0,1 14,6A2,2 0 0,1 12,8A2,2 0 0,1 10,6A2,2 0 0,1 12,4Z"/></svg>
<div class="t" style="top:129.00px;font-size:8.5px;line-height:8.5px;color:#2b2b2b;letter-spacing:0.375px;left:470.65px;width:104px;text-align:center;">Abendrot</div>
<svg class="i" style="left:0;top:0;width:800px;height:472px" viewBox="0 0 800 472"><path d="M384.25,233.20 A39.45,39.45 0 1 1 440.05,233.20" fill="none" stroke="#bababa" stroke-width="1.6"/><circle cx="384.25" cy="233.20" r="3.05" fill="#3f8be2"/></svg>
<svg class="i" style="left:385.80px;top:178.85px;width:52.7px;height:52.7px" viewBox="0 0 24 24"><path fill="#44679b" d="M12,2A7,7 0 0,0 5,9C5,11.38 6.19,13.47 8,14.74V17A1,1 0 0,0 9,18H15A1,1 0 0,0 16,17V14.74C17.81,13.47 19,11.38 19,9A7,7 0 0,0 12,2M9,21A1,1 0 0,0 10,22H14A1,1 0 0,0 15,21V20H9V21Z"/></svg>
<svg class="i" style="left:445.75px;top:158.90px;width:12.6px;height:12.6px" viewBox="0 0 24 24"><path fill="#4f4f4f" d="M12,16A2,2 0 0,1 14,18A2,2 0 0,1 12,20A2,2 0 0,1 10,18A2,2 0 0,1 12,16M12,10A2,2 0 0,1 14,12A2,2 0 0,1 12,14A2,2 0 0,1 10,12A2,2 0 0,1 12,10M12,4A2,2 0 0,1 14,6A2,2 0 0,1 12,8A2,2 0 0,1 10,6A2,2 0 0,1 12,4Z"/></svg>
<div class="t" style="top:248.00px;font-size:8.5px;line-height:8.5px;color:#2b2b2b;letter-spacing:0.087px;left:360.15px;width:104px;text-align:center;">L-lightLINE</div>
<svg class="i" style="left:0;top:0;width:800px;height:472px" viewBox="0 0 800 472"><path d="M494.75,233.20 A39.45,39.45 0 1 1 550.55,233.20" fill="none" stroke="#bababa" stroke-width="1.6"/><circle cx="494.75" cy="233.20" r="3.05" fill="#3f8be2"/></svg>
<svg class="i" style="left:496.30px;top:178.85px;width:52.7px;height:52.7px" viewBox="0 0 24 24"><path fill="#44679b" d="M12,2A7,7 0 0,0 5,9C5,11.38 6.19,13.47 8,14.74V17A1,1 0 0,0 9,18H15A1,1 0 0,0 16,17V14.74C17.81,13.47 19,11.38 19,9A7,7 0 0,0 12,2M9,21A1,1 0 0,0 10,22H14A1,1 0 0,0 15,21V20H9V21Z"/></svg>
<svg class="i" style="left:555.75px;top:158.90px;width:12.6px;height:12.6px" viewBox="0 0 24 24"><path fill="#4f4f4f" d="M12,16A2,2 0 0,1 14,18A2,2 0 0,1 12,20A2,2 0 0,1 10,18A2,2 0 0,1 12,16M12,10A2,2 0 0,1 14,12A2,2 0 0,1 12,14A2,2 0 0,1 10,12A2,2 0 0,1 12,10M12,4A2,2 0 0,1 14,6A2,2 0 0,1 12,8A2,2 0 0,1 10,6A2,2 0 0,1 12,4Z"/></svg>
<div class="t" style="top:248.00px;font-size:8.5px;line-height:8.5px;color:#2b2b2b;letter-spacing:0.180px;left:470.65px;width:104px;text-align:center;">Balcony</div>
<svg class="i" style="left:0;top:0;width:800px;height:472px" viewBox="0 0 800 472"><path d="M384.25,352.05 A39.45,39.45 0 1 1 440.05,352.05" fill="none" stroke="#bababa" stroke-width="1.6"/><circle cx="384.25" cy="352.05" r="3.05" fill="#3f8be2"/></svg>
<svg class="i" style="left:385.80px;top:298.40px;width:52.7px;height:52.7px" viewBox="0 0 24 24"><path fill="#44679b" d="M12,2A7,7 0 0,0 5,9C5,11.38 6.19,13.47 8,14.74V17A1,1 0 0,0 9,18H15A1,1 0 0,0 16,17V14.74C17.81,13.47 19,11.38 19,9A7,7 0 0,0 12,2M9,21A1,1 0 0,0 10,22H14A1,1 0 0,0 15,21V20H9V21Z"/></svg>
<svg class="i" style="left:445.75px;top:277.75px;width:12.6px;height:12.6px" viewBox="0 0 24 24"><path fill="#4f4f4f" d="M12,16A2,2 0 0,1 14,18A2,2 0 0,1 12,20A2,2 0 0,1 10,18A2,2 0 0,1 12,16M12,10A2,2 0 0,1 14,12A2,2 0 0,1 12,14A2,2 0 0,1 10,12A2,2 0 0,1 12,10M12,4A2,2 0 0,1 14,6A2,2 0 0,1 12,8A2,2 0 0,1 10,6A2,2 0 0,1 12,4Z"/></svg>
<div class="t" style="top:367.00px;font-size:8.5px;line-height:8.5px;color:#2b2b2b;letter-spacing:0.186px;left:360.15px;width:104px;text-align:center;">Office Aurelle</div>
<svg class="i" style="left:0;top:0;width:800px;height:472px" viewBox="0 0 800 472"><path d="M494.75,352.05 A39.45,39.45 0 1 1 550.55,352.05" fill="none" stroke="#bababa" stroke-width="1.6"/><path d="M494.75,352.05 A39.45,39.45 0 1 1 560.23,336.16" fill="none" stroke="#4486d4" stroke-width="1.5"/><circle cx="560.23" cy="336.16" r="3.05" fill="#3f8be2"/></svg>
<svg class="i" style="left:496.30px;top:298.40px;width:52.7px;height:52.7px" viewBox="0 0 24 24"><path fill="#e5ac30" d="M12,2A7,7 0 0,0 5,9C5,11.38 6.19,13.47 8,14.74V17A1,1 0 0,0 9,18H15A1,1 0 0,0 16,17V14.74C17.81,13.47 19,11.38 19,9A7,7 0 0,0 12,2M9,21A1,1 0 0,0 10,22H14A1,1 0 0,0 15,21V20H9V21Z"/></svg>
<svg class="i" style="left:555.75px;top:277.75px;width:12.6px;height:12.6px" viewBox="0 0 24 24"><path fill="#4f4f4f" d="M12,16A2,2 0 0,1 14,18A2,2 0 0,1 12,20A2,2 0 0,1 10,18A2,2 0 0,1 12,16M12,10A2,2 0 0,1 14,12A2,2 0 0,1 12,14A2,2 0 0,1 10,12A2,2 0 0,1 12,10M12,4A2,2 0 0,1 14,6A2,2 0 0,1 12,8A2,2 0 0,1 10,6A2,2 0 0,1 12,4Z"/></svg>
<div class="t" style="top:367.00px;font-size:8.5px;line-height:8.5px;color:#2b2b2b;letter-spacing:0.175px;left:470.65px;width:104px;text-align:center;">Bathroom</div>
<div class="t" style="top:402.00px;font-size:8.2px;line-height:8.2px;color:#44679b;font-weight:bold;left:369.20px;transform:scaleX(0.62);transform-origin:0 0;">CO<span style="font-size:5.5px">2</span></div>
<div class="t" style="top:401.00px;font-size:8.4px;line-height:8.4px;color:#555;letter-spacing:0.238px;left:385.75px;">Air quality</div>
<div style="position:absolute;left:368.2px;top:420.3px;width:4.8px;height:4.9px;background:#29643f"></div>
<div class="t" style="top:422.00px;font-size:17.4px;line-height:17.4px;color:#4a4a4a;letter-spacing:-0.877px;left:373.40px;">31</div>
<div class="t" style="top:428.00px;font-size:10.2px;line-height:10.2px;color:#555;letter-spacing:-0.013px;left:395.20px;">idx</div>
<div style="position:absolute;left:537.80px;top:424.40px;width:4.4px;height:4.4px;border-radius:50%;background:#4a7fd6"></div>
<div class="t" style="top:421.00px;font-size:10.5px;line-height:10.5px;color:#555;letter-spacing:0.035px;left:545.50px;">32</div>
<div class="t" style="top:425.00px;font-size:6.1px;line-height:6.1px;color:#999;letter-spacing:0.001px;left:559.20px;">idx</div>
<div style="position:absolute;left:537.80px;top:441.45px;width:4.4px;height:4.4px;border-radius:50%;background:#6f2229"></div>
<div class="t" style="top:438.00px;font-size:10.5px;line-height:10.5px;color:#555;letter-spacing:0.035px;left:545.50px;">27</div>
<div class="t" style="top:442.00px;font-size:6.1px;line-height:6.1px;color:#999;letter-spacing:0.001px;left:559.20px;">idx</div>
<div style="position:absolute;left:537.80px;top:458.50px;width:4.4px;height:4.4px;border-radius:50%;background:#8a8040"></div>
<div class="t" style="top:455.00px;font-size:10.5px;line-height:10.5px;color:#555;letter-spacing:0.035px;left:545.50px;">32</div>
<div class="t" style="top:459.00px;font-size:6.1px;line-height:6.1px;color:#999;letter-spacing:0.001px;left:559.20px;">idx</div>
<svg class="i" style="left:589.40px;top:42.00px;width:12.4px;height:12.4px" viewBox="0 0 24 24"><path fill="#44679b" d="M15,13V5A3,3 0 0,0 9,5V13A5,5 0 1,0 15,13M12,4A1,1 0 0,1 13,5V8H11V5A1,1 0 0,1 12,4Z"/></svg>
<div class="t" style="top:43.00px;font-size:8.4px;line-height:8.4px;color:#5c5c5c;letter-spacing:0.150px;left:606.80px;-webkit-text-stroke:0.25px #5c5c5c;">Outside</div>
<div class="t" style="top:66.00px;font-size:17.2px;line-height:17.2px;color:#484848;letter-spacing:-0.269px;left:590.60px;">19.2</div>
<div class="t" style="top:72.00px;font-size:7.8px;line-height:7.8px;color:#707070;left:625.60px;">°</div>
<div class="t" style="top:72.00px;font-size:9.9px;line-height:9.9px;color:#707070;left:629.00px;">C</div>
<div class="t" style="top:66.00px;font-size:17.2px;line-height:17.2px;color:#484848;letter-spacing:-0.270px;left:741.60px;">NaN</div>
<div class="t" style="top:72.00px;font-size:7.8px;line-height:7.8px;color:#707070;left:777.80px;">°</div>
<div class="t" style="top:72.00px;font-size:9.9px;line-height:9.9px;color:#707070;left:781.20px;">C</div>
<svg class="i" style="left:0;top:0;width:800px;height:472px" viewBox="0 0 800 472"><path d="M590.75,99.55 C591.25,99.70 592.62,100.50 593.75,100.45 C594.88,100.40 596.00,99.40 597.50,99.25 C599.00,99.10 600.88,98.88 602.75,99.55 C604.62,100.22 607.00,102.97 608.75,103.30 C610.50,103.62 611.62,101.75 613.25,101.50 C614.88,101.25 616.62,100.92 618.50,101.80 C620.38,102.67 622.62,106.17 624.50,106.75 C626.38,107.33 628.12,105.45 629.75,105.25 C631.38,105.05 632.50,105.80 634.25,105.55 C636.00,105.30 638.38,103.72 640.25,103.75 C642.12,103.78 643.38,104.95 645.50,105.70 C647.62,106.45 649.75,107.58 653.00,108.25 C656.25,108.92 661.75,109.33 665.00,109.75 C668.25,110.17 670.00,110.36 672.50,110.80 C675.00,111.24 677.25,112.08 680.00,112.40 C682.75,112.73 686.75,112.82 689.00,112.75 C691.25,112.68 691.00,111.92 693.50,112.00 C696.00,112.08 700.00,113.08 704.00,113.20 C708.00,113.33 712.50,112.90 717.50,112.75 C722.50,112.60 730.25,112.80 734.00,112.30 C737.75,111.80 738.00,110.55 740.00,109.75 C742.00,108.95 743.50,108.38 746.00,107.50 C748.50,106.62 752.00,105.45 755.00,104.50 C758.00,103.55 761.50,102.55 764.00,101.80 C766.50,101.05 768.00,100.80 770.00,100.00 C772.00,99.20 773.75,97.70 776.00,97.00 C778.25,96.30 781.70,95.92 783.50,95.80 C785.30,95.67 786.25,96.17 786.80,96.25" fill="none" stroke="#d6d6d6" stroke-width="1.7" stroke-linejoin="round" stroke-linecap="round"/></svg>
<div style="position:absolute;left:612.25px;top:147.50px;width:5.0px;height:5.0px;border-radius:50%;background:#d6d6d6"></div>
<div class="t" style="top:146.00px;font-size:7.5px;line-height:7.5px;color:#4a4a4a;letter-spacing:-0.033px;left:620.75px;">Meteo Local</div>
<div style="position:absolute;left:687.70px;top:147.50px;width:5.0px;height:5.0px;border-radius:50%;background:#6a6a6a"></div>
<div class="t" style="top:146.00px;font-size:7.5px;line-height:7.5px;color:#4a4a4a;letter-spacing:-0.065px;left:695.75px;">Balcony Temperature</div>
<div class="t" style="top:168.00px;font-size:7.3px;line-height:7.3px;color:#2a2a2a;font-weight:bold;letter-spacing:-0.123px;left:589.55px;">Min</div>
<div class="t" style="top:179.00px;font-size:7.2px;line-height:7.2px;color:#5a5a5a;left:589.55px;">9 °C</div>
<div class="t" style="top:190.00px;font-size:7.2px;line-height:7.2px;color:#5a5a5a;left:589.55px;">03:32</div>
<div class="t" style="top:168.00px;font-size:7.3px;line-height:7.3px;color:#2a2a2a;font-weight:bold;right:11.60px;">Max</div>
<div class="t" style="top:179.00px;font-size:7.2px;line-height:7.2px;color:#5a5a5a;right:11.60px;">19.3 °C</div>
<div class="t" style="top:190.00px;font-size:7.2px;line-height:7.2px;color:#5a5a5a;right:11.60px;">13:02</div>
<svg class="i" style="left:589.40px;top:220.80px;width:12.4px;height:12.4px" viewBox="0 0 24 24"><path fill="#44679b" d="M15,13V5A3,3 0 0,0 9,5V13A5,5 0 1,0 15,13M12,4A1,1 0 0,1 13,5V8H11V5A1,1 0 0,1 12,4Z"/></svg>
<div class="t" style="top:222.00px;font-size:8.4px;line-height:8.4px;color:#5c5c5c;letter-spacing:0.201px;left:606.80px;-webkit-text-stroke:0.25px #5c5c5c;">Living Room</div>
<div class="t" style="top:244.00px;font-size:17.2px;line-height:17.2px;color:#484848;letter-spacing:-0.119px;left:590.40px;">26.3</div>
<div class="t" style="top:251.00px;font-size:7.8px;line-height:7.8px;color:#707070;left:625.60px;">°</div>
<div class="t" style="top:250.00px;font-size:9.9px;line-height:9.9px;color:#707070;left:629.00px;">C</div>
<svg class="i" style="left:0;top:0;width:800px;height:472px" viewBox="0 0 800 472"><path d="M590.75,274.75 C591.38,275.57 593.12,279.38 594.50,279.70 C595.88,280.02 597.25,277.02 599.00,276.70 C600.75,276.38 603.00,277.62 605.00,277.75 C607.00,277.88 608.88,277.32 611.00,277.45 C613.12,277.57 615.12,278.77 617.75,278.50 C620.38,278.23 624.38,275.80 626.75,275.80 C629.12,275.80 630.12,277.43 632.00,278.50 C633.88,279.57 635.75,281.38 638.00,282.25 C640.25,283.12 643.25,283.43 645.50,283.75 C647.75,284.07 649.62,284.25 651.50,284.20 C653.38,284.15 655.00,283.27 656.75,283.45 C658.50,283.62 660.38,285.20 662.00,285.25 C663.62,285.30 664.88,284.38 666.50,283.75 C668.12,283.12 670.00,281.55 671.75,281.50 C673.50,281.45 676.12,283.12 677.00,283.45" fill="none" stroke="#4f86dc" stroke-width="2.1" stroke-linejoin="round" stroke-linecap="round"/><path d="M590.75,274.75 C591.38,275.57 593.12,279.38 594.50,279.70 C595.88,280.02 597.25,277.02 599.00,276.70 C600.75,276.38 603.00,277.62 605.00,277.75 C607.00,277.88 608.88,277.32 611.00,277.45 C613.12,277.57 615.12,278.77 617.75,278.50 C620.38,278.23 624.38,275.80 626.75,275.80 C629.12,275.80 630.12,277.43 632.00,278.50 C633.88,279.57 635.75,281.38 638.00,282.25 C640.25,283.12 643.25,283.43 645.50,283.75 C647.75,284.07 649.62,284.25 651.50,284.20 C653.38,284.15 655.00,283.27 656.75,283.45 C658.50,283.62 660.38,285.20 662.00,285.25 C663.62,285.30 664.88,284.38 666.50,283.75 C668.12,283.12 670.00,281.55 671.75,281.50 C673.50,281.45 676.12,283.12 677.00,283.45" fill="none" stroke="#3f74cf" stroke-width="1.0" stroke-linejoin="round" stroke-linecap="round"/></svg>
<div class="t" style="top:299.00px;font-size:7.3px;line-height:7.3px;color:#2a2a2a;font-weight:bold;letter-spacing:-0.123px;left:589.55px;">Min</div>
<div class="t" style="top:310.00px;font-size:7.2px;line-height:7.2px;color:#5a5a5a;left:589.55px;">25.5 °C</div>
<div class="t" style="top:321.00px;font-size:7.2px;line-height:7.2px;color:#5a5a5a;left:589.55px;">15:32</div>
<div class="t" style="top:299.00px;font-size:7.3px;line-height:7.3px;color:#2a2a2a;font-weight:bold;right:122.90px;">Max</div>
<div class="t" style="top:310.00px;font-size:7.2px;line-height:7.2px;color:#5a5a5a;right:122.90px;">27.3 °C</div>
<div class="t" style="top:321.00px;font-size:7.2px;line-height:7.2px;color:#5a5a5a;right:122.90px;">14:14</div>
<svg class="i" style="left:700.10px;top:220.80px;width:12.4px;height:12.4px" viewBox="0 0 24 24"><path fill="#44679b" d="M15,13V5A3,3 0 0,0 9,5V13A5,5 0 1,0 15,13M12,4A1,1 0 0,1 13,5V8H11V5A1,1 0 0,1 12,4Z"/></svg>
<div class="t" style="top:222.00px;font-size:8.4px;line-height:8.4px;color:#5c5c5c;letter-spacing:0.469px;left:717.50px;-webkit-text-stroke:0.25px #5c5c5c;">Office</div>
<div class="t" style="top:244.00px;font-size:17.2px;line-height:17.2px;color:#484848;letter-spacing:-0.148px;left:701.10px;">25.28</div>
<div class="t" style="top:251.00px;font-size:7.8px;line-height:7.8px;color:#707070;left:745.60px;">°</div>
<div class="t" style="top:250.00px;font-size:9.9px;line-height:9.9px;color:#707070;left:749.00px;">C</div>
<svg class="i" style="left:0;top:0;width:800px;height:472px" viewBox="0 0 800 472"><path d="M701.60,275.40 C702.55,275.60 705.25,276.55 707.30,276.60 C709.35,276.65 711.68,276.00 713.90,275.70 C716.12,275.40 718.25,274.80 720.60,274.80 C722.95,274.80 725.77,275.55 728.00,275.70 C730.23,275.85 732.02,275.20 734.00,275.70 C735.98,276.20 737.93,277.63 739.90,278.70 C741.87,279.77 743.57,281.22 745.80,282.10 C748.03,282.98 750.82,283.48 753.30,284.00 C755.78,284.52 758.48,284.95 760.70,285.20 C762.92,285.45 765.00,285.60 766.60,285.50 C768.20,285.40 768.93,285.28 770.30,284.60 C771.67,283.92 773.18,282.28 774.80,281.40 C776.42,280.52 778.03,279.70 780.00,279.30 C781.97,278.90 785.50,279.05 786.60,279.00" fill="none" stroke="#3f7559" stroke-width="2.1" stroke-linejoin="round" stroke-linecap="round"/><path d="M701.60,275.40 C702.55,275.60 705.25,276.55 707.30,276.60 C709.35,276.65 711.68,276.00 713.90,275.70 C716.12,275.40 718.25,274.80 720.60,274.80 C722.95,274.80 725.77,275.55 728.00,275.70 C730.23,275.85 732.02,275.20 734.00,275.70 C735.98,276.20 737.93,277.63 739.90,278.70 C741.87,279.77 743.57,281.22 745.80,282.10 C748.03,282.98 750.82,283.48 753.30,284.00 C755.78,284.52 758.48,284.95 760.70,285.20 C762.92,285.45 765.00,285.60 766.60,285.50 C768.20,285.40 768.93,285.28 770.30,284.60 C771.67,283.92 773.18,282.28 774.80,281.40 C776.42,280.52 778.03,279.70 780.00,279.30 C781.97,278.90 785.50,279.05 786.60,279.00" fill="none" stroke="#21443a" stroke-width="1.0" stroke-linejoin="round" stroke-linecap="round"/></svg>
<div class="t" style="top:299.00px;font-size:7.3px;line-height:7.3px;color:#2a2a2a;font-weight:bold;letter-spacing:-0.123px;left:700.25px;">Min</div>
<div class="t" style="top:310.00px;font-size:7.2px;line-height:7.2px;color:#5a5a5a;left:700.25px;">24.51 °C</div>
<div class="t" style="top:321.00px;font-size:7.2px;line-height:7.2px;color:#5a5a5a;left:700.25px;">08:19</div>
<div class="t" style="top:299.00px;font-size:7.3px;line-height:7.3px;color:#2a2a2a;font-weight:bold;right:12.20px;">Max</div>
<div class="t" style="top:310.00px;font-size:7.2px;line-height:7.2px;color:#5a5a5a;right:12.20px;">25.87 °C</div>
<div class="t" style="top:321.00px;font-size:7.2px;line-height:7.2px;color:#5a5a5a;right:12.20px;">19:22</div>
<svg class="i" style="left:589.40px;top:351.80px;width:12.4px;height:12.4px" viewBox="0 0 24 24"><path fill="#44679b" d="M15,13V5A3,3 0 0,0 9,5V13A5,5 0 1,0 15,13M12,4A1,1 0 0,1 13,5V8H11V5A1,1 0 0,1 12,4Z"/></svg>
<div class="t" style="top:353.00px;font-size:8.4px;line-height:8.4px;color:#5c5c5c;letter-spacing:0.131px;left:606.80px;-webkit-text-stroke:0.25px #5c5c5c;">Bath Room</div>
<div class="t" style="top:375.00px;font-size:17.2px;line-height:17.2px;color:#484848;letter-spacing:-0.119px;left:590.40px;">26.6</div>
<div class="t" style="top:382.00px;font-size:7.8px;line-height:7.8px;color:#707070;left:625.60px;">°</div>
<div class="t" style="top:381.00px;font-size:9.9px;line-height:9.9px;color:#707070;left:629.00px;">C</div>
<svg class="i" style="left:0;top:0;width:800px;height:472px" viewBox="0 0 800 472"><path d="M590.80,412.10 C592.25,411.78 596.57,410.47 599.50,410.20 C602.43,409.93 606.10,410.10 608.40,410.50 C610.70,410.90 611.75,413.15 613.30,412.60 C614.85,412.05 615.67,407.33 617.70,407.20 C619.73,407.07 622.57,410.57 625.50,411.80 C628.43,413.03 632.30,413.92 635.30,414.60 C638.30,415.28 640.92,415.50 643.50,415.90 C646.08,416.30 648.22,417.08 650.80,417.00 C653.38,416.92 656.28,415.40 659.00,415.40 C661.72,415.40 665.33,417.00 667.10,417.00 C668.87,417.00 668.65,416.75 669.60,415.40 C670.55,414.05 671.67,410.45 672.80,408.90 C673.93,407.35 675.80,406.57 676.40,406.10" fill="none" stroke="#a39b45" stroke-width="2.1" stroke-linejoin="round" stroke-linecap="round"/><path d="M590.80,412.10 C592.25,411.78 596.57,410.47 599.50,410.20 C602.43,409.93 606.10,410.10 608.40,410.50 C610.70,410.90 611.75,413.15 613.30,412.60 C614.85,412.05 615.67,407.33 617.70,407.20 C619.73,407.07 622.57,410.57 625.50,411.80 C628.43,413.03 632.30,413.92 635.30,414.60 C638.30,415.28 640.92,415.50 643.50,415.90 C646.08,416.30 648.22,417.08 650.80,417.00 C653.38,416.92 656.28,415.40 659.00,415.40 C661.72,415.40 665.33,417.00 667.10,417.00 C668.87,417.00 668.65,416.75 669.60,415.40 C670.55,414.05 671.67,410.45 672.80,408.90 C673.93,407.35 675.80,406.57 676.40,406.10" fill="none" stroke="#5a5626" stroke-width="1.0" stroke-linejoin="round" stroke-linecap="round"/></svg>
<div class="t" style="top:430.00px;font-size:7.3px;line-height:7.3px;color:#2a2a2a;font-weight:bold;letter-spacing:-0.123px;left:589.55px;">Min</div>
<div class="t" style="top:441.00px;font-size:7.2px;line-height:7.2px;color:#5a5a5a;left:589.55px;">26.2 °C</div>
<div class="t" style="top:452.00px;font-size:7.2px;line-height:7.2px;color:#5a5a5a;left:589.55px;">01:15</div>
<div class="t" style="top:430.00px;font-size:7.3px;line-height:7.3px;color:#2a2a2a;font-weight:bold;right:122.90px;">Max</div>
<div class="t" style="top:441.00px;font-size:7.2px;line-height:7.2px;color:#5a5a5a;right:122.90px;">27.3 °C</div>
<div class="t" style="top:452.00px;font-size:7.2px;line-height:7.2px;color:#5a5a5a;right:122.90px;">12:19</div>
<svg class="i" style="left:700.10px;top:351.80px;width:12.4px;height:12.4px" viewBox="0 0 24 24"><path fill="#44679b" d="M15,13V5A3,3 0 0,0 9,5V13A5,5 0 1,0 15,13M12,4A1,1 0 0,1 13,5V8H11V5A1,1 0 0,1 12,4Z"/></svg>
<div class="t" style="top:353.00px;font-size:8.4px;line-height:8.4px;color:#5c5c5c;letter-spacing:0.127px;left:717.50px;-webkit-text-stroke:0.25px #5c5c5c;">Bed Room</div>
<div class="t" style="top:375.00px;font-size:17.2px;line-height:17.2px;color:#484848;letter-spacing:-0.148px;left:701.10px;">25.02</div>
<div class="t" style="top:382.00px;font-size:7.8px;line-height:7.8px;color:#707070;left:745.60px;">°</div>
<div class="t" style="top:381.00px;font-size:9.9px;line-height:9.9px;color:#707070;left:749.00px;">C</div>
<svg class="i" style="left:0;top:0;width:800px;height:472px" viewBox="0 0 800 472"><path d="M702.00,407.00 C704.82,406.92 711.83,406.55 718.90,406.50 C725.97,406.45 737.33,406.77 744.40,406.70 C751.47,406.63 756.50,406.13 761.30,406.10 C766.10,406.07 770.23,406.22 773.20,406.50 C776.17,406.78 777.40,406.87 779.10,407.80 C780.80,408.73 782.12,410.53 783.40,412.10 C784.68,413.67 786.23,416.35 786.80,417.20" fill="none" stroke="#a8444a" stroke-width="2.1" stroke-linejoin="round" stroke-linecap="round"/><path d="M702.00,407.00 C704.82,406.92 711.83,406.55 718.90,406.50 C725.97,406.45 737.33,406.77 744.40,406.70 C751.47,406.63 756.50,406.13 761.30,406.10 C766.10,406.07 770.23,406.22 773.20,406.50 C776.17,406.78 777.40,406.87 779.10,407.80 C780.80,408.73 782.12,410.53 783.40,412.10 C784.68,413.67 786.23,416.35 786.80,417.20" fill="none" stroke="#3e1c20" stroke-width="1.0" stroke-linejoin="round" stroke-linecap="round"/></svg>
<div class="t" style="top:430.00px;font-size:7.3px;line-height:7.3px;color:#2a2a2a;font-weight:bold;letter-spacing:-0.123px;left:700.25px;">Min</div>
<div class="t" style="top:441.00px;font-size:7.2px;line-height:7.2px;color:#5a5a5a;left:700.25px;">24.58 °C</div>
<div class="t" style="top:452.00px;font-size:7.2px;line-height:7.2px;color:#5a5a5a;left:700.25px;">12:55</div>
<div class="t" style="top:430.00px;font-size:7.3px;line-height:7.3px;color:#2a2a2a;font-weight:bold;right:12.20px;">Max</div>
<div class="t" style="top:441.00px;font-size:7.2px;line-height:7.2px;color:#5a5a5a;right:12.20px;">26.11 °C</div>
<div class="t" style="top:452.00px;font-size:7.2px;line-height:7.2px;color:#5a5a5a;right:12.20px;">21:41</div>
</div>
</div>
</body></html>
